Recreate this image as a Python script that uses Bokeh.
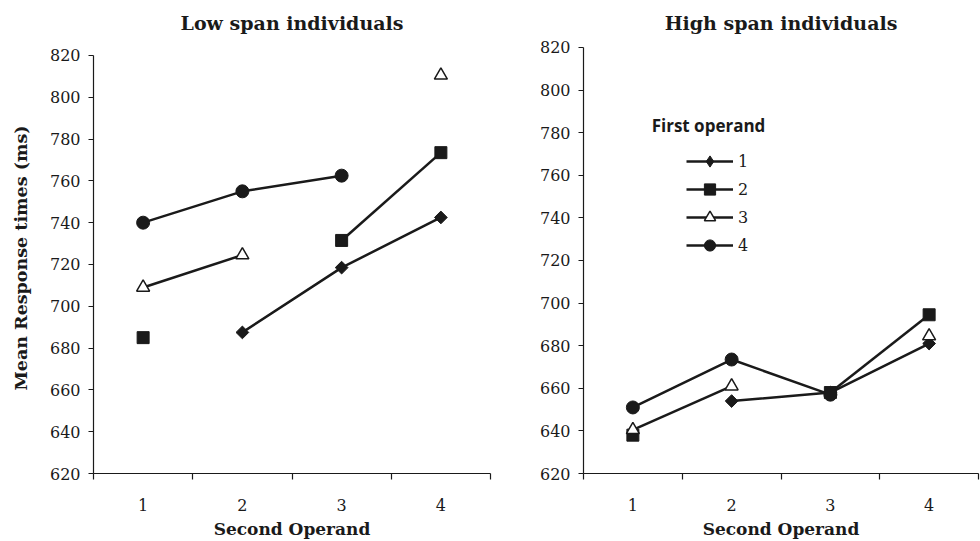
import math
from bokeh.plotting import figure
from bokeh.models import Range1d, FixedTicker, Legend, LegendItem, Label
from bokeh.layouts import row
from bokeh.embed import file_html
from bokeh.resources import INLINE

nan = float("nan")

# ---- data ----
second_operand = [1, 2, 3, 4]
x_tick_labels = ["1", "2", "3", "4"]
y_ticks = [620, 640, 660, 680, 700, 720, 740, 760, 780, 800, 820]
first_operand = ["1", "2", "3", "4"]

low_1 = [nan, 687.5, 718.5, 742.5]
low_2 = [685, nan, 731.5, 773.5]
low_3 = [709, 724.5, nan, 810.5]
low_4 = [740, 755, 762.5, nan]

high_1 = [nan, 654, 658, 681]
high_2 = [638, nan, 658, 694.5]
high_3 = [640.5, 661, nan, 684.5]
high_4 = [651, 673.5, 657, nan]

titles = ["Low span individuals", "High span individuals"]
y_label = "Mean Response times (ms)"
x_label = "Second Operand"
legend_title = "First operand"

INK = "#1a1a1a"
SERIF = "DejaVu Serif"

styles = [
    dict(marker="square", size=9, angle=math.pi / 4, fill_color=INK, line_color=INK, line_width=1),
    dict(marker="square", size=12, angle=0, fill_color=INK, line_color=INK, line_width=1),
    dict(marker="triangle", size=13, angle=0, fill_color="white", line_color=INK, line_width=1.5),
    dict(marker="circle", size=13, angle=0, fill_color=INK, line_color=INK, line_width=1),
]


def make_fig(title, width, left, right, y_top, series, ylabel):
    p = figure(width=width, height=541, x_range=Range1d(0.5, 4.5), y_range=Range1d(620, y_top),
               output_backend="svg", toolbar_location=None,
               min_border_left=left, min_border_right=right,
               min_border_top=42, min_border_bottom=68)
    p.title.text = title
    p.title.align = "center"
    p.title.text_font = SERIF
    p.title.text_font_size = "19px"
    p.title.text_font_style = "bold"
    p.title.text_color = INK
    p.title.standoff = 17
    p.grid.visible = False
    p.outline_line_color = None
    p.background_fill_color = "white"

    minor = [c - 0.5 for c in second_operand] + [second_operand[-1] + 0.5]
    p.xaxis.ticker = FixedTicker(ticks=second_operand, minor_ticks=minor)
    p.xaxis.major_label_overrides = {c: l for c, l in zip(second_operand, x_tick_labels)}
    p.xaxis.major_tick_out = 0
    p.xaxis.major_tick_in = 0
    p.xaxis.minor_tick_out = 6
    p.xaxis.minor_tick_in = 0
    p.xaxis.major_label_standoff = 19
    p.xaxis.axis_label = x_label
    p.xaxis.axis_label_standoff = 5

    p.yaxis.ticker = FixedTicker(ticks=y_ticks, minor_ticks=[])
    p.yaxis.bounds = (y_ticks[0], y_ticks[-1])
    p.yaxis.major_tick_out = 5
    p.yaxis.major_tick_in = 0
    p.yaxis.major_label_standoff = 8
    if ylabel:
        p.yaxis.axis_label = ylabel
        p.yaxis.axis_label_standoff = 16

    for ax in (p.xaxis[0], p.yaxis[0]):
        ax.axis_line_color = INK
        ax.axis_line_width = 1.2
        ax.major_tick_line_color = INK
        ax.minor_tick_line_color = INK
        ax.major_tick_line_width = 1.2
        ax.minor_tick_line_width = 1.2
        ax.major_label_text_font = SERIF
        ax.major_label_text_font_size = "16px"
        ax.major_label_text_color = INK
        ax.axis_label_text_font = SERIF
        ax.axis_label_text_font_style = "bold"
        ax.axis_label_text_color = INK
    p.xaxis.axis_label_text_font_size = "17px"
    p.yaxis.axis_label_text_font_size = "17.5px"

    items = []
    for name, ys, st in zip(first_operand, series, styles):
        lr = p.line(second_operand, ys, line_color=INK, line_width=2.5)
        renderers = [lr]
        if st["angle"]:
            # plain diamond hidden beneath the rotated square; shown in the legend
            dr = p.scatter(second_operand, ys, marker="diamond", size=10,
                           fill_color=INK, line_color=INK, line_width=1)
            renderers.append(dr)
        sr = p.scatter(second_operand, ys, marker=st["marker"], size=st["size"], angle=st["angle"],
                       fill_color=st["fill_color"], line_color=st["line_color"], line_width=st["line_width"])
        if not st["angle"]:
            renderers.append(sr)
        items.append(LegendItem(label=name, renderers=renderers))
    return p, items


p1, _ = make_fig(titles[0], 535, 93, 45, 826.2, [low_1, low_2, low_3, low_4], y_label)
p2, items = make_fig(titles[1], 445, 48, 2, 822.3, [high_1, high_2, high_3, high_4], None)

legend = Legend(items=items, location=(103, 214), padding=0, margin=0, spacing=0,
                glyph_width=47, glyph_height=28, label_standoff=5,
                border_line_color=None, background_fill_alpha=0,
                label_text_font=SERIF, label_text_font_size="16px", label_text_color=INK)
p2.add_layout(legend)

p2.add_layout(Label(x=1.19, y=783.3, text=legend_title, text_font="Open Sans",
                    text_font_size="17px", text_font_style="bold", text_color=INK,
                    text_baseline="middle", text_align="left"))

layout = row(p1, p2)
open("out.html", "w").write(file_html(layout, INLINE))
